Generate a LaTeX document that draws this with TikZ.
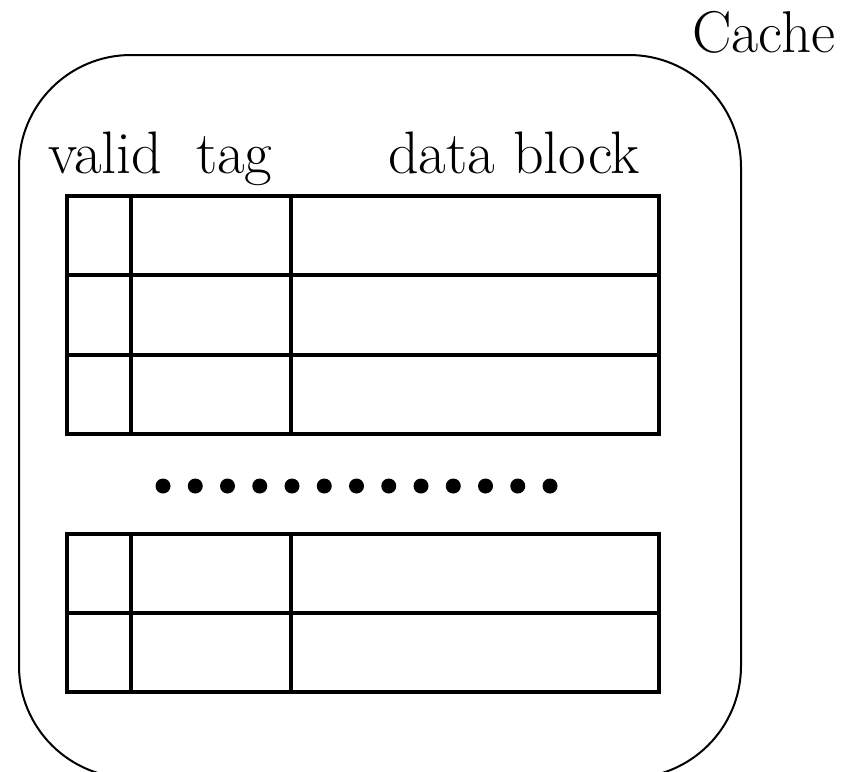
\documentclass[tikz,border=0pt]{standalone}
\usepackage{fontspec}
\begin{document}
\begin{tikzpicture}[x=1pt,y=-1pt,
  grid/.style={line width=3.5pt},
  outer/.style={line width=2pt,rounded corners=112pt},
  lbl/.style={anchor=base west,inner sep=0pt,font=\fontsize{60}{66}\selectfont},
  dotmark/.style={circle,fill=black,inner sep=0pt,minimum width=15pt,minimum height=15pt}]
\useasboundingbox (0,0) rectangle (853,771);
\clip (0,0) rectangle (853,771);
\draw[outer] (19,55) rectangle (741,778);
\node[lbl,font=\fontsize{59}{65}\selectfont] (cache) at (692,52) {Cache};
\node[lbl] (valid) at (48,173) {valid};
\node[lbl] (tag) at (196,173) {tag};
\node[lbl] (data) at (388,173) {data block};
% top group
\draw[grid] (67,196) rectangle (659,434);
\draw[grid] (67,275) -- (659,275);
\draw[grid] (67,355) -- (659,355);
\draw[grid] (131,196) -- (131,434);
\draw[grid] (291,196) -- (291,434);
% bottom group
\draw[grid] (67,534) rectangle (659,692);
\draw[grid] (67,613) -- (659,613);
\draw[grid] (131,534) -- (131,692);
\draw[grid] (291,534) -- (291,692);
% dots
\foreach \i in {0,...,12} {
  \node[dotmark] (d\i) at ({163+\i*32.25},486) {};
}
\end{tikzpicture}
\end{document}
